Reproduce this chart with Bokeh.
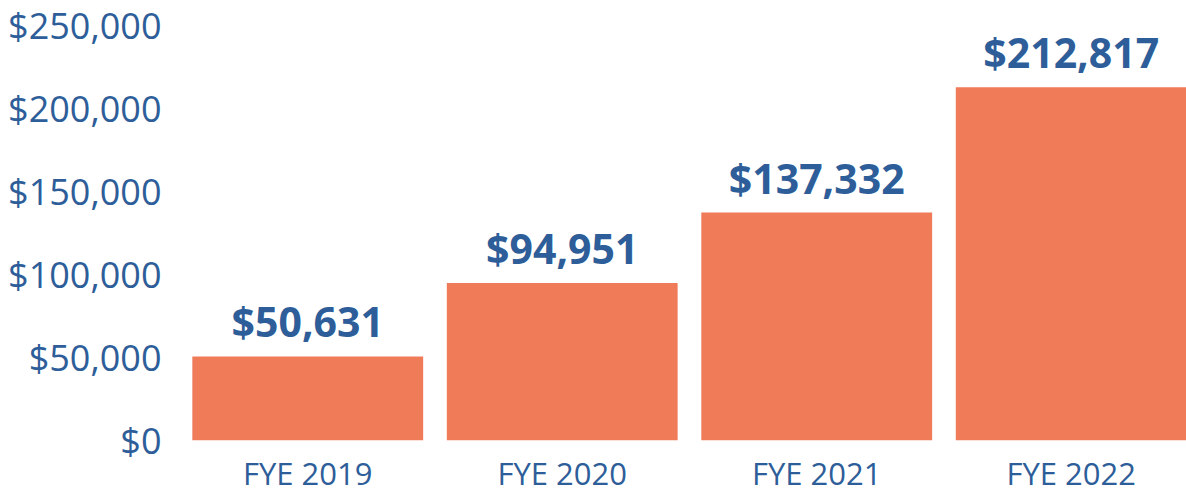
from bokeh.plotting import figure
from bokeh.models import Range1d, FixedTicker, NumeralTickFormatter, ColumnDataSource
from bokeh.core.properties import value
from bokeh.embed import file_html
from bokeh.resources import INLINE

categories = ["FYE 2019", "FYE 2020", "FYE 2021", "FYE 2022"]
amounts = [50631, 94951, 137332, 212817]
y_ticks = [0, 50000, 100000, 150000, 200000, 250000]

BLUE = "#2E5E99"
ORANGE = "#EF7B59"
FONT = "Open Sans"

xs = list(range(len(categories)))
labels = ["${:,}".format(v) for v in amounts]
src = ColumnDataSource(dict(x=xs, top=amounts, label=labels))

p = figure(frame_width=1006, frame_height=415,
           x_range=Range1d(-0.5, 3.453), y_range=Range1d(0, 250000),
           output_backend="svg", toolbar_location=None,
           min_border_left=180, min_border_right=0, min_border_top=25, min_border_bottom=0)

p.vbar(x="x", top="top", width=0.907, bottom=0, source=src, color=ORANGE, line_color=None)
p.text(x="x", y="top", text="label", source=src, text_align="center", text_baseline="alphabetic",
       y_offset=-35, text_color=BLUE, text_font=value(FONT), text_font_style="bold",
       text_font_size="41px")

p.xgrid.visible = False
p.ygrid.visible = False
p.outline_line_color = None
p.background_fill_color = None
p.border_fill_color = None

p.yaxis.ticker = FixedTicker(ticks=y_ticks)
p.yaxis.formatter = NumeralTickFormatter(format="$0,0")
p.xaxis.ticker = FixedTicker(ticks=xs)
p.xaxis.major_label_overrides = {i: c for i, c in zip(xs, categories)}

for ax in (p.xaxis[0], p.yaxis[0]):
    ax.axis_line_color = None
    ax.major_tick_line_color = None
    ax.minor_tick_line_color = None
    ax.major_label_text_color = BLUE
    ax.major_label_text_font = FONT
p.yaxis.major_label_text_font_size = "36px"
p.xaxis.major_label_text_font_size = "31px"
p.yaxis.major_label_standoff = 13
p.xaxis.major_label_standoff = 5

open("out.html", "w").write(file_html(p, INLINE))
